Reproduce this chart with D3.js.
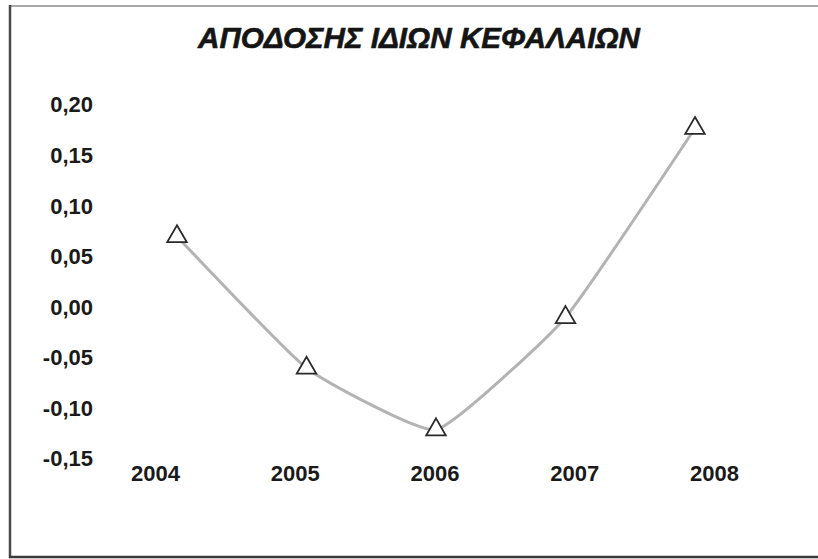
<!DOCTYPE html>
<html>
<head>
<meta charset="utf-8">
<script src="https://cdn.jsdelivr.net/npm/d3@7/dist/d3.min.js"></script>
<style>
  html, body { margin: 0; padding: 0; background: #ffffff; }
  svg { display: block; }
</style>
</head>
<body>
<svg id="chart" width="818" height="559"></svg>
<script>
// Return on equity by year
const title = "ΑΠΟΔΟΣΗΣ ΙΔΙΩΝ ΚΕΦΑΛΑΙΩΝ";
const years = ["2004", "2005", "2006", "2007", "2008"];
const returns = [0.069, -0.061, -0.122, -0.011, 0.176];
const yTicks = [0.20, 0.15, 0.10, 0.05, 0.00, -0.05, -0.10, -0.15];

const W = 818, H = 559;
const svg = d3.select("#chart");
const font = "'Liberation Sans', Arial, sans-serif";

// frame
svg.append("rect").attr("x", 0).attr("y", 0).attr("width", W).attr("height", H).attr("fill", "#ffffff");
svg.append("line").attr("x1", 9).attr("x2", W).attr("y1", 6).attr("y2", 6)
  .attr("stroke", "#a8a8a8").attr("stroke-width", 2);
svg.append("line").attr("x1", 10).attr("x2", 10).attr("y1", 5).attr("y2", 558)
  .attr("stroke", "#4a4a4a").attr("stroke-width", 2.5);
svg.append("line").attr("x1", 9).attr("x2", W).attr("y1", 557).attr("y2", 557)
  .attr("stroke", "#3a3a3a").attr("stroke-width", 2.5);

// title
svg.append("text")
  .attr("x", 419).attr("y", 48)
  .attr("text-anchor", "middle")
  .attr("font-family", font)
  .attr("font-weight", "bold")
  .attr("font-style", "italic")
  .attr("font-size", 30)
  .attr("fill", "#151515")
  .attr("stroke", "#151515")
  .attr("stroke-width", 0.6)
  .attr("textLength", 442)
  .attr("lengthAdjust", "spacingAndGlyphs")
  .text(title);

// scales
const y = d3.scaleLinear().domain([-0.15, 0.20]).range([458, 104]);
const x = d3.scalePoint().domain(years).range([177, 695]);
const xLabel = d3.scalePoint().domain(years).range([155, 714]);

const fmt = v => d3.format(".2f")(v).replace(".", ",").replace("−", "-");

// y axis (labels only)
const yAxis = d3.axisLeft(y).tickValues(yTicks).tickFormat(fmt).tickSize(0).tickPadding(0);
const gy = svg.append("g").attr("transform", "translate(93,0)").call(yAxis);
gy.select(".domain").remove();
gy.selectAll("text")
  .attr("font-family", font).attr("font-weight", "bold").attr("font-size", 22)
  .attr("fill", "#1a1a1a").attr("dy", "0.36em");

// x axis (labels only)
const xAxis = d3.axisBottom(xLabel).tickSize(0).tickPadding(0);
const gx = svg.append("g").attr("transform", "translate(0,465)").call(xAxis);
gx.select(".domain").remove();
gx.selectAll("text")
  .attr("font-family", font).attr("font-weight", "bold").attr("font-size", 22)
  .attr("fill", "#1a1a1a").attr("dy", "0.72em");

// lightly smoothed line
const data = years.map((yr, i) => ({ yr, v: returns[i] }));
const line = d3.line().x(d => x(d.yr)).y(d => y(d.v)).curve(d3.curveCardinal.tension(0.6));
svg.append("path").datum(data)
  .attr("d", line)
  .attr("fill", "none")
  .attr("stroke", "#b3b3b3")
  .attr("stroke-width", 3)
  .attr("stroke-linejoin", "round");

// triangle markers
svg.selectAll(".marker").data(data).enter().append("path")
  .attr("class", "marker")
  .attr("transform", d => `translate(${x(d.yr)},${y(d.v)})`)
  .attr("d", d3.symbol().type(d3.symbolTriangle).size(165))
  .attr("fill", "#ffffff")
  .attr("stroke", "#2a2a2a")
  .attr("stroke-width", 1.8);
</script>
</body>
</html>
